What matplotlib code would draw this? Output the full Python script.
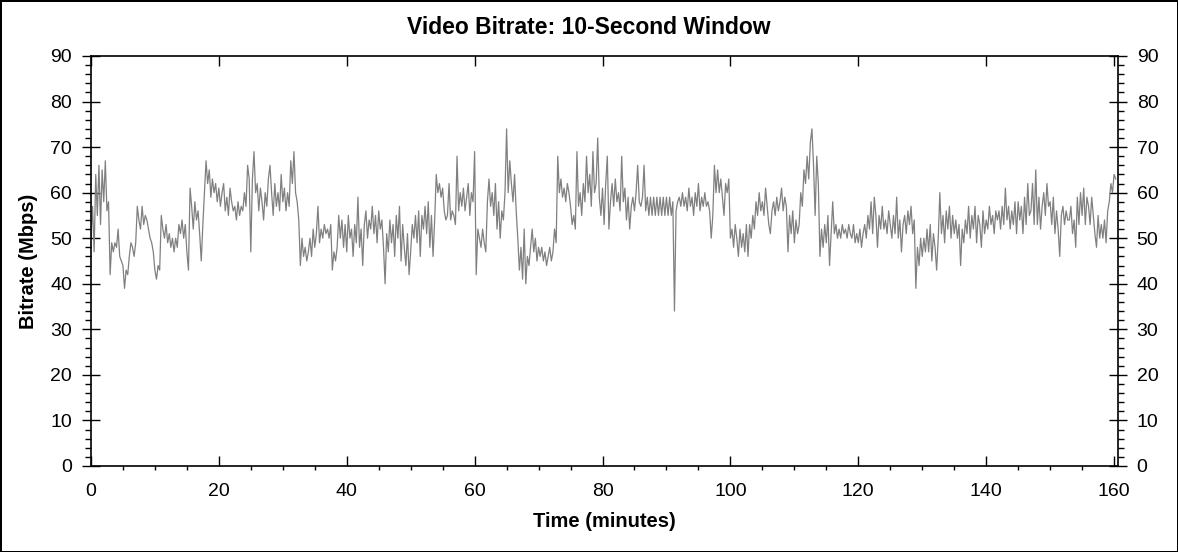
import numpy as np
import matplotlib
matplotlib.use("Agg")
import matplotlib.pyplot as plt
from matplotlib.ticker import MultipleLocator

plt.rcParams['font.family'] = ['Liberation Sans', 'DejaVu Sans']

TITLE = "Video Bitrate: 10-Second Window"
X_LABEL = "Time (minutes)"
Y_LABEL = "Bitrate (Mbps)"

# one reading every 0.25 minutes
STEP_MIN = 0.25
bitrate = [
    # 0-10 min
    50, 57, 47, 64, 55, 66, 53, 65, 58, 67, 56, 58, 42, 49, 47, 49, 48, 52, 46, 45,
    44, 39, 43, 42, 46, 49, 48, 46, 49, 57, 54, 52, 57, 53, 55, 54, 52, 50, 49, 47,
    # 10-20
    43, 41, 44, 43, 55, 52, 50, 53, 49, 51, 48, 50, 47, 50, 48, 53, 51, 54, 50, 53,
    47, 43, 61, 57, 52, 58, 54, 56, 51, 45, 53, 60, 67, 62, 65, 59, 63, 60, 62, 58,
    # 20-30
    61, 57, 60, 62, 56, 59, 55, 61, 58, 56, 57, 54, 58, 55, 57, 56, 60, 57, 66, 63,
    47, 63, 69, 60, 62, 56, 61, 58, 54, 60, 57, 63, 66, 60, 55, 62, 57, 60, 56, 64,
    # 30-40
    58, 61, 56, 60, 57, 67, 62, 69, 60, 58, 54, 44, 50, 46, 48, 45, 47, 50, 46, 52,
    48, 51, 57, 49, 52, 50, 53, 51, 52, 50, 53, 43, 47, 45, 48, 55, 50, 54, 48, 53,
    # 40-50
    47, 55, 50, 52, 46, 53, 49, 59, 48, 52, 44, 53, 56, 50, 54, 52, 57, 51, 55, 49,
    56, 52, 54, 48, 40, 51, 47, 54, 49, 53, 46, 55, 50, 57, 45, 53, 48, 44, 51, 42,
    # 50-60
    47, 53, 50, 55, 49, 56, 46, 55, 52, 57, 51, 58, 48, 55, 46, 54, 64, 60, 62, 59,
    61, 56, 54, 55, 62, 54, 56, 55, 53, 68, 56, 60, 57, 61, 56, 59, 62, 55, 60, 58,
    # 60-70
    69, 42, 52, 50, 48, 52, 49, 47, 58, 63, 57, 60, 55, 62, 52, 58, 50, 56, 54, 60,
    74, 60, 67, 62, 58, 64, 56, 50, 43, 48, 41, 52, 40, 46, 44, 48, 52, 47, 50, 45,
    # 70-80
    48, 46, 48, 45, 47, 44, 46, 48, 45, 47, 52, 49, 68, 60, 63, 59, 61, 58, 62, 60,
    57, 53, 55, 52, 69, 57, 60, 55, 62, 58, 68, 60, 64, 57, 69, 60, 62, 72, 59, 55,
    # 80-90
    61, 53, 62, 68, 52, 58, 62, 57, 63, 58, 60, 56, 68, 58, 61, 54, 59, 52, 57, 59,
    56, 60, 66, 58, 57, 59, 66, 56, 59, 55, 59, 55, 59, 55, 59, 55, 59, 55, 59, 55,
    # 90-100
    59, 55, 59, 55, 58, 34, 56, 58, 59, 57, 60, 57, 59, 56, 61, 57, 59, 55, 60, 57,
    62, 56, 59, 57, 60, 57, 58, 56, 50, 55, 66, 60, 65, 60, 63, 59, 55, 62, 60, 63,
    # 100-110
    50, 52, 48, 53, 50, 46, 52, 48, 51, 47, 53, 46, 53, 50, 55, 52, 58, 55, 60, 56,
    58, 55, 61, 57, 53, 51, 56, 58, 55, 59, 56, 58, 61, 56, 59, 57, 47, 55, 51, 56,
    # 110-120
    49, 54, 51, 53, 60, 57, 65, 62, 68, 63, 71, 74, 66, 55, 68, 62, 46, 52, 48, 53,
    49, 55, 44, 51, 58, 51, 53, 50, 52, 50, 53, 51, 52, 50, 53, 51, 50, 53, 49, 51,
    # 120-130
    49, 52, 48, 51, 53, 50, 55, 52, 58, 51, 59, 55, 48, 55, 52, 57, 52, 54, 51, 56,
    53, 50, 55, 51, 59, 50, 54, 47, 53, 55, 51, 56, 53, 57, 51, 54, 39, 48, 44, 50,
    # 130-140
    46, 50, 47, 52, 47, 53, 45, 51, 48, 43, 50, 60, 51, 55, 49, 56, 52, 57, 50, 55,
    51, 54, 50, 53, 44, 52, 49, 54, 51, 57, 50, 55, 52, 57, 49, 55, 53, 48, 56, 51,
    # 140-150
    54, 52, 57, 53, 55, 51, 56, 54, 56, 52, 57, 53, 61, 54, 57, 52, 56, 53, 58, 51,
    58, 54, 57, 51, 59, 53, 62, 55, 56, 62, 53, 65, 53, 59, 52, 57, 60, 55, 62, 57,
    # 150-160.5
    58, 53, 59, 51, 56, 52, 46, 55, 57, 53, 56, 54, 54, 57, 51, 54, 48, 59, 53, 60,
    55, 61, 53, 59, 57, 53, 59, 55, 51, 48, 55, 50, 53, 50, 54, 49, 56, 58, 62, 60,
    64, 63,
]

time_min = np.arange(len(bitrate)) * STEP_MIN

fig = plt.figure(figsize=(11.78, 5.52), dpi=100, facecolor="white",
                 edgecolor="black", linewidth=2)
ax = fig.add_axes([0.0772, 0.1558, 0.8718, 0.7428])

ax.plot(time_min, bitrate, color="#808080", linewidth=0.9)

ax.set_xlim(0, 160.6)
ax.set_ylim(0, 90)

ax.xaxis.set_major_locator(MultipleLocator(20))
ax.xaxis.set_minor_locator(MultipleLocator(5))
ax.yaxis.set_major_locator(MultipleLocator(10))
ax.yaxis.set_minor_locator(MultipleLocator(2))

ax.tick_params(axis="y", which="major", direction="inout", length=13, width=1,
               labelsize=14, pad=7, left=True, right=True,
               labelleft=True, labelright=True)
ax.tick_params(axis="y", which="minor", direction="out", length=4, width=1,
               left=True, right=True)
ax.tick_params(axis="x", which="major", direction="in", length=7, width=1,
               labelsize=14, pad=12, top=True, bottom=True)
ax.tick_params(axis="x", which="minor", direction="out", length=3, width=1,
               bottom=True, top=False)

for side in ["left", "right", "top", "bottom"]:
    ax.spines[side].set_linewidth(1.2)

# title is centred on the whole figure, not on the axes
fig.text(0.5, 0.951, TITLE, ha="center", va="center",
         fontsize=16.5, fontweight="bold")
ax.set_xlabel(X_LABEL, fontsize=14.5, fontweight="bold", labelpad=9)
ax.set_ylabel(Y_LABEL, fontsize=14.5, fontweight="bold", labelpad=9)

fig.savefig("out.png", dpi=100)
